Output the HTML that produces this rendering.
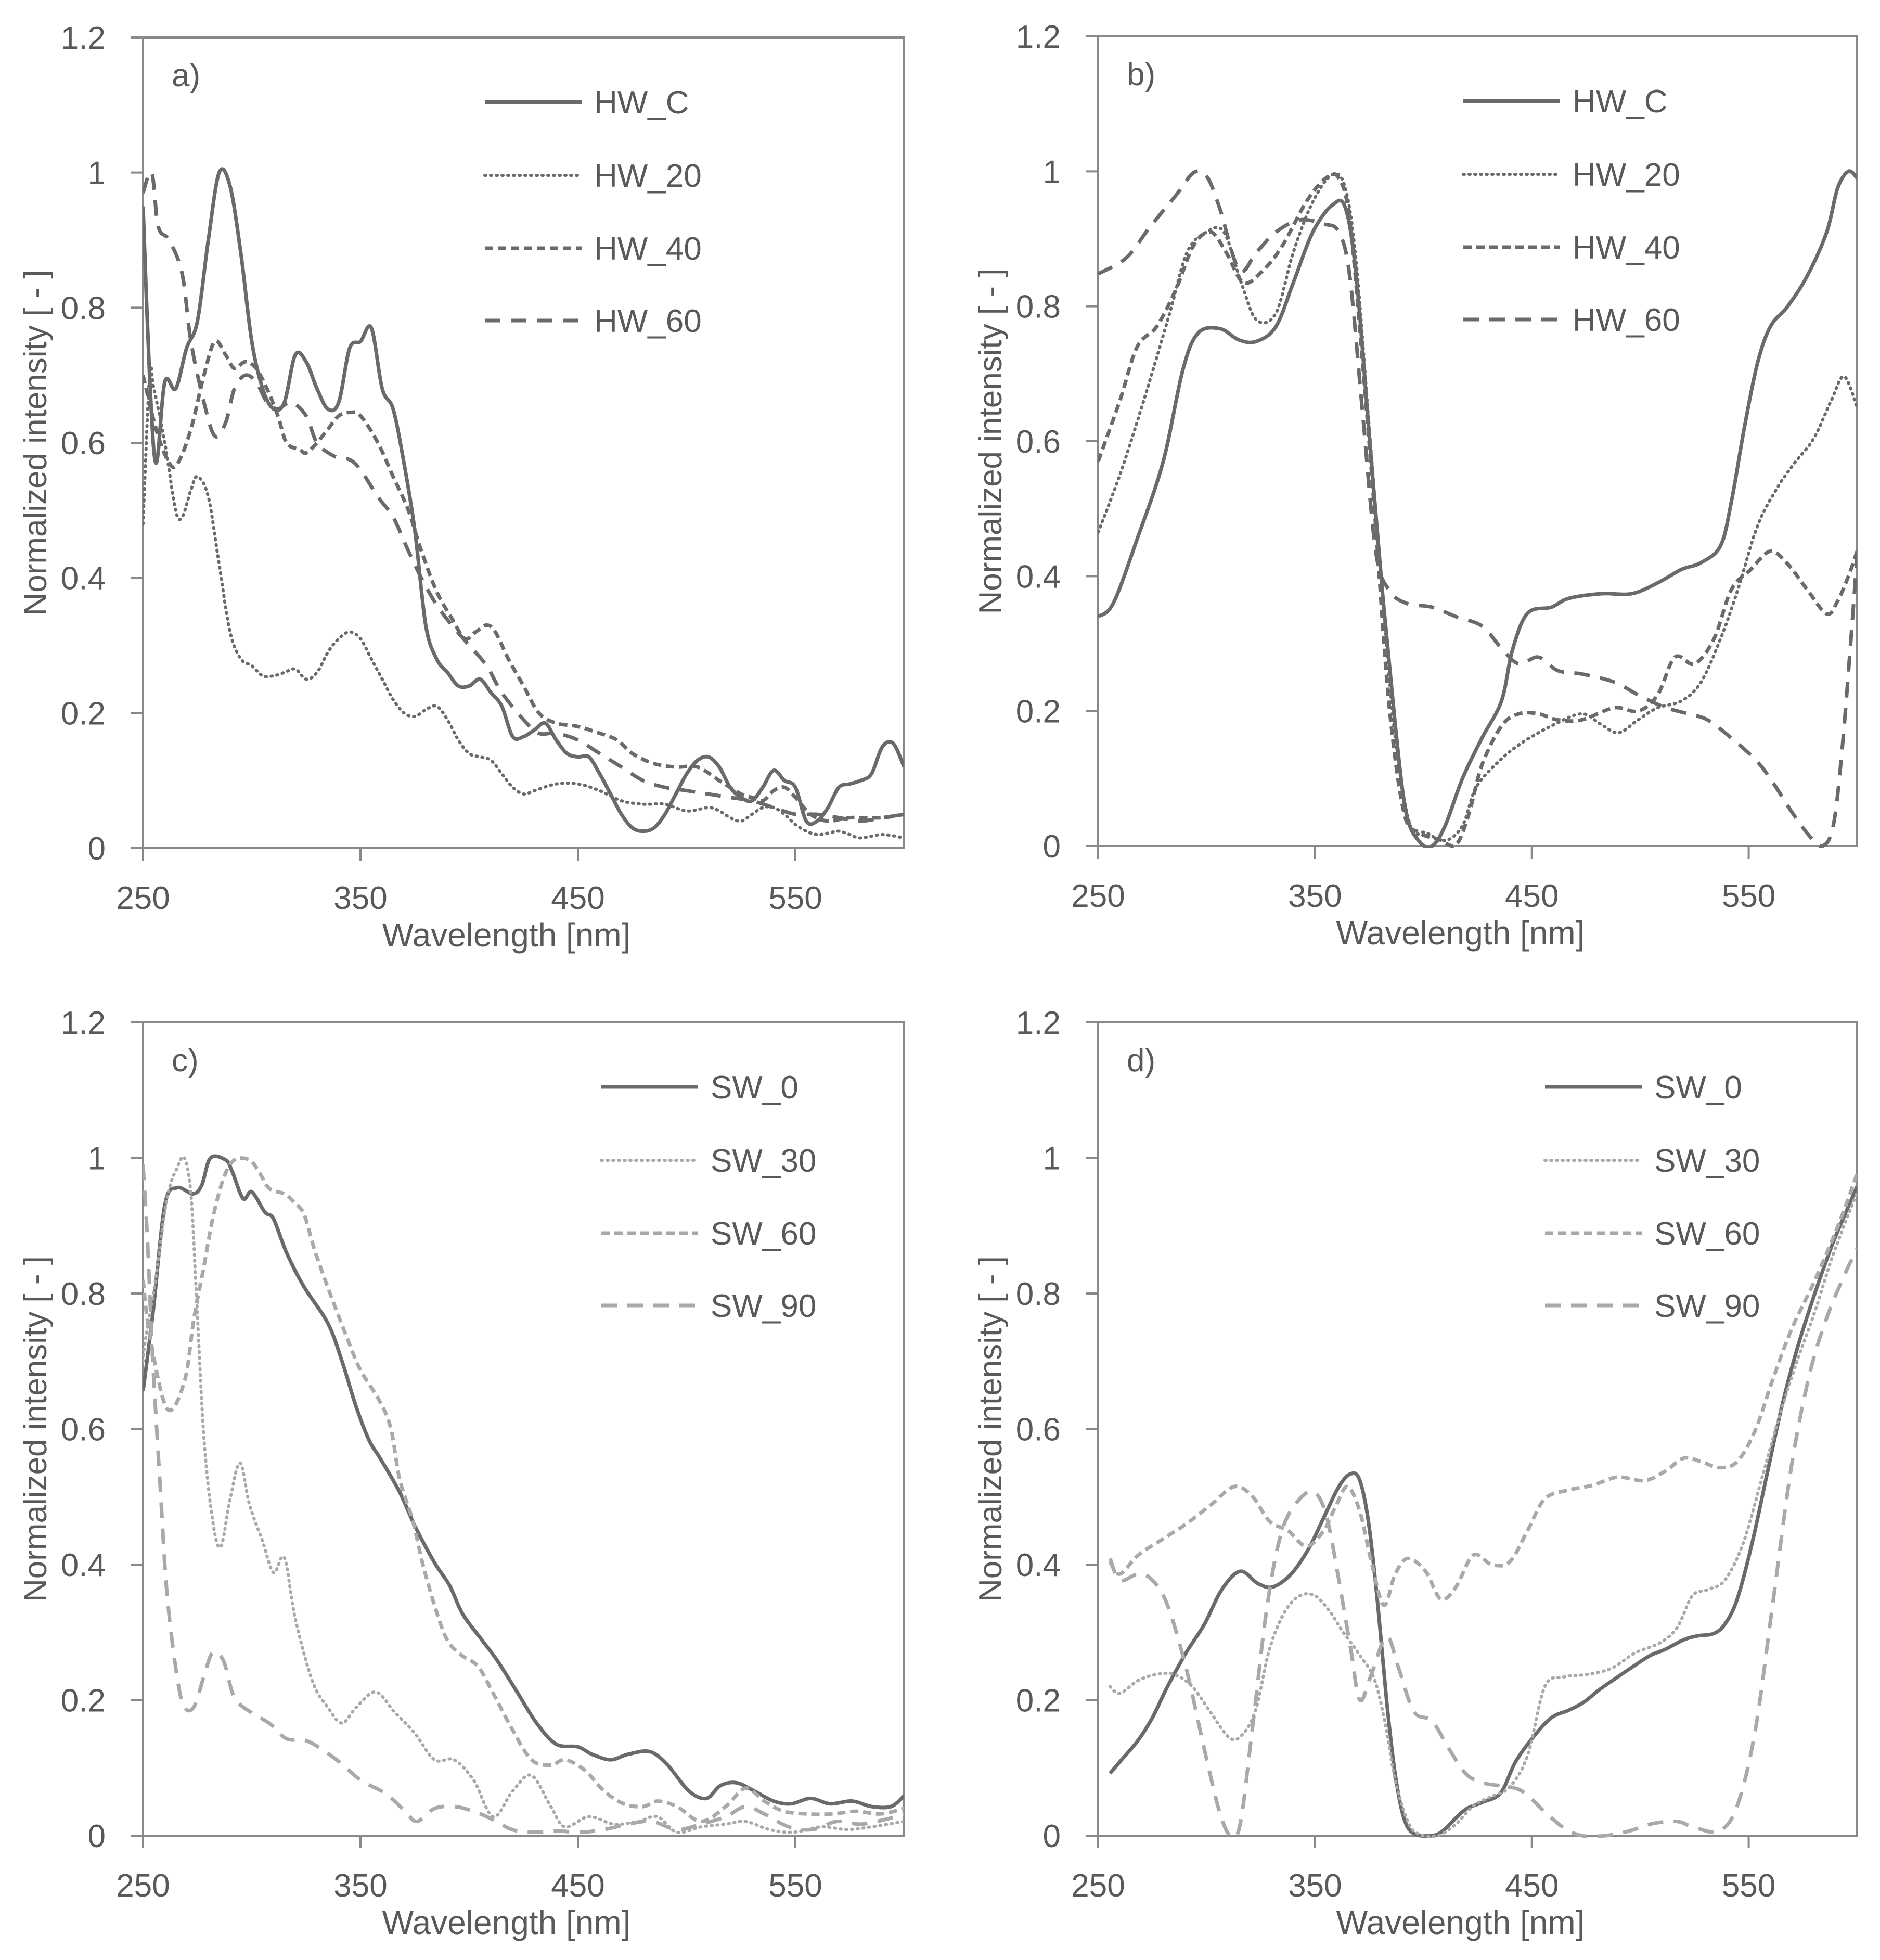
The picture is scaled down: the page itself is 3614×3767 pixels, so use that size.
<!DOCTYPE html>
<html><head><meta charset="utf-8">
<style>
html,body{margin:0;padding:0;background:#fff;}
svg{display:block;}
text{font-family:"Liberation Sans",sans-serif;fill:#595959;}
</style></head>
<body>
<svg id="chart" width="3614" height="3767" viewBox="0 0 3614 3767" xmlns="http://www.w3.org/2000/svg">
<rect width="3614" height="3767" fill="#fff"/>
</svg>
<script>
// ---- shared axis data ----
const xTicks = [250, 350, 450, 550];
const yTicks = [0, 0.2, 0.4, 0.6, 0.8, 1, 1.2];
const yTickLabels = ["0", "0.2", "0.4", "0.6", "0.8", "1", "1.2"];
const xDomain = [250, 600];
const yDomain = [0, 1.2];

// ---- panel a ----
const aNames = ["HW_C", "HW_20", "HW_40", "HW_60"];
const a_HW_C = [[250,0.95],[253,0.7],[256,0.57],[260,0.69],[265,0.68],[270,0.74],[275,0.78],[280,0.9],[285,1.0],[290,0.98],[295,0.88],[300,0.75],[305,0.68],[310,0.65],[315,0.66],[320,0.73],[325,0.72],[330,0.68],[335,0.65],[340,0.66],[345,0.74],[350,0.75],[355,0.77],[360,0.68],[365,0.65],[370,0.57],[375,0.47],[380,0.33],[385,0.28],[390,0.26],[395,0.24],[400,0.24],[405,0.25],[410,0.23],[415,0.21],[420,0.165],[425,0.165],[430,0.175],[435,0.185],[440,0.16],[445,0.14],[450,0.135],[455,0.135],[460,0.11],[465,0.08],[470,0.05],[475,0.03],[480,0.025],[485,0.03],[490,0.05],[495,0.08],[500,0.11],[505,0.13],[510,0.135],[515,0.12],[520,0.09],[525,0.075],[530,0.07],[535,0.09],[540,0.115],[545,0.1],[550,0.09],[555,0.04],[560,0.04],[565,0.06],[570,0.09],[575,0.095],[580,0.1],[585,0.11],[590,0.15],[595,0.155],[600,0.12]];
const a_HW_20 = [[250,0.48],[253,0.7],[255,0.68],[260,0.6],[265,0.5],[268,0.49],[272,0.53],[275,0.55],[280,0.52],[285,0.42],[290,0.32],[295,0.28],[300,0.27],[305,0.255],[310,0.255],[315,0.26],[320,0.265],[325,0.25],[330,0.26],[335,0.29],[340,0.31],[345,0.32],[350,0.31],[355,0.28],[360,0.25],[365,0.22],[370,0.2],[375,0.195],[380,0.205],[385,0.21],[390,0.19],[395,0.16],[400,0.14],[405,0.135],[410,0.13],[415,0.11],[420,0.09],[425,0.08],[430,0.085],[440,0.095],[450,0.095],[460,0.085],[470,0.07],[480,0.065],[490,0.065],[500,0.055],[510,0.06],[515,0.055],[520,0.045],[525,0.04],[530,0.05],[535,0.06],[540,0.06],[545,0.05],[550,0.035],[555,0.025],[560,0.02],[565,0.022],[570,0.025],[575,0.02],[580,0.015],[590,0.02],[600,0.015]];
const a_HW_40 = [[250,0.7],[256,0.62],[262,0.57],[266,0.57],[272,0.62],[278,0.7],[283,0.75],[288,0.73],[292,0.71],[297,0.72],[302,0.71],[307,0.68],[312,0.64],[316,0.6],[322,0.59],[325,0.585],[330,0.6],[335,0.62],[340,0.64],[345,0.645],[350,0.64],[358,0.6],[365,0.55],[372,0.5],[378,0.44],[385,0.38],[392,0.34],[398,0.31],[403,0.32],[408,0.33],[412,0.32],[418,0.28],[425,0.24],[432,0.2],[440,0.185],[450,0.18],[460,0.17],[468,0.16],[475,0.14],[485,0.125],[495,0.12],[505,0.12],[515,0.1],[525,0.08],[530,0.075],[535,0.07],[540,0.085],[545,0.09],[550,0.075],[557,0.05],[565,0.04],[575,0.045],[590,0.045],[600,0.05]];
const a_HW_60 = [[250,0.97],[254,1.0],[257,0.92],[262,0.9],[268,0.85],[272,0.75],[278,0.66],[283,0.61],[288,0.63],[292,0.68],[297,0.7],[302,0.69],[307,0.66],[312,0.65],[318,0.66],[325,0.64],[330,0.6],[338,0.58],[345,0.575],[350,0.56],[358,0.52],[365,0.49],[372,0.44],[378,0.4],[385,0.36],[392,0.33],[400,0.3],[408,0.27],[415,0.23],[425,0.19],[432,0.17],[440,0.17],[450,0.16],[460,0.14],[470,0.12],[480,0.1],[490,0.09],[500,0.085],[510,0.08],[520,0.075],[530,0.07],[540,0.06],[550,0.05],[560,0.05],[570,0.045],[580,0.04],[590,0.045],[600,0.05]];

// ---- panel b ----
const bNames = ["HW_C", "HW_20", "HW_40", "HW_60"];
const b_HW_C = [[250,0.34],[257,0.36],[268,0.455],[280,0.57],[289,0.705],[296,0.76],[306,0.767],[315,0.75],[323,0.748],[332,0.77],[340,0.835],[349,0.91],[358,0.95],[364,0.946],[369,0.845],[375,0.61],[381,0.38],[387,0.18],[392,0.05],[398,0.007],[404,0],[410,0.03],[418,0.1],[427,0.16],[436,0.215],[441,0.29],[448,0.345],[459,0.354],[467,0.367],[482,0.374],[496,0.374],[508,0.39],[519,0.41],[528,0.42],[537,0.445],[542,0.51],[548,0.62],[554,0.715],[560,0.77],[568,0.8],[577,0.845],[586,0.91],[591,0.975],[596,1.0],[600,0.99]];
const b_HW_20 = [[250,0.465],[260,0.55],[271,0.66],[283,0.79],[291,0.88],[300,0.91],[308,0.91],[316,0.835],[323,0.78],[332,0.79],[340,0.88],[349,0.955],[358,0.995],[364,0.975],[369,0.865],[375,0.62],[381,0.38],[387,0.16],[394,0.03],[401,0.02],[410,0.008],[418,0.03],[424,0.085],[433,0.12],[444,0.15],[459,0.178],[473,0.196],[482,0.18],[490,0.168],[499,0.187],[508,0.205],[519,0.215],[528,0.243],[537,0.307],[545,0.38],[554,0.474],[563,0.53],[571,0.567],[580,0.604],[588,0.66],[594,0.696],[600,0.65]];
const b_HW_40 = [[250,0.57],[260,0.66],[268,0.74],[277,0.77],[286,0.826],[294,0.89],[302,0.91],[309,0.88],[317,0.835],[326,0.853],[335,0.89],[346,0.955],[355,0.99],[361,0.99],[366,0.928],[372,0.715],[378,0.474],[384,0.215],[391,0.05],[398,0.02],[407,0.01],[415,0.002],[421,0.048],[427,0.12],[436,0.178],[444,0.196],[453,0.196],[462,0.187],[473,0.187],[488,0.205],[499,0.2],[508,0.224],[516,0.28],[525,0.27],[534,0.307],[542,0.38],[551,0.41],[560,0.437],[568,0.418],[577,0.38],[586,0.344],[591,0.363],[596,0.4],[600,0.437]];
const b_HW_60 = [[250,0.848],[263,0.872],[274,0.918],[286,0.965],[294,0.998],[300,0.993],[306,0.946],[315,0.854],[323,0.88],[332,0.91],[343,0.928],[354,0.922],[361,0.91],[366,0.845],[372,0.64],[378,0.437],[384,0.38],[392,0.36],[404,0.354],[415,0.34],[427,0.326],[436,0.293],[444,0.27],[453,0.28],[462,0.26],[473,0.255],[488,0.243],[499,0.224],[511,0.206],[522,0.196],[531,0.187],[542,0.16],[554,0.125],[562,0.09],[570,0.05],[578,0.015],[584,0],[589,0.03],[593,0.14],[597,0.3],[600,0.43]];

// ---- panel c ----
const cNames = ["SW_0", "SW_30", "SW_60", "SW_90"];
const c_SW_0 = [[250,0.656],[254.5,0.77],[260,0.93],[265.6,0.956],[273,0.947],[277,0.96],[281,1.0],[288,0.997],[291,0.98],[296,0.94],[300,0.95],[306,0.92],[310,0.91],[316,0.86],[324,0.81],[335,0.756],[341.5,0.7],[348,0.633],[354,0.583],[359,0.557],[368,0.507],[375,0.457],[384,0.403],[391,0.369],[397,0.327],[406,0.288],[413,0.258],[422,0.212],[431,0.166],[440,0.135],[450,0.131],[456.5,0.12],[465,0.112],[473,0.12],[483,0.124],[491,0.105],[501,0.066],[509,0.055],[515.6,0.074],[523,0.078],[531,0.066],[540,0.051],[548,0.047],[557,0.055],[566,0.047],[576,0.051],[585,0.043],[594,0.043],[600,0.059]];
const c_SW_30 = [[250,0.7],[251,0.73],[255.6,0.817],[261,0.94],[265.6,0.985],[269,1.0],[272,0.947],[274.5,0.8],[278,0.587],[282,0.465],[285.7,0.426],[290,0.496],[294.6,0.55],[299,0.488],[305,0.434],[310,0.388],[315,0.41],[320,0.32],[328,0.227],[335,0.189],[341.5,0.166],[348,0.189],[357,0.212],[366,0.181],[375,0.151],[384,0.112],[393,0.112],[402,0.082],[411,0.028],[420,0.066],[428.6,0.089],[437.5,0.043],[444,0.013],[455,0.028],[466.5,0.017],[477.6,0.021],[486.6,0.028],[495.5,0.005],[506.7,0.013],[518,0.017],[527,0.021],[538,0.009],[549,0.005],[562,0.013],[573.6,0.009],[585,0.013],[600,0.021]];
const c_SW_60 = [[250,0.82],[253,0.74],[261,0.63],[269,0.67],[273.4,0.763],[278,0.84],[282,0.91],[287,0.97],[292,0.997],[299,0.997],[303.6,0.978],[308,0.955],[315,0.947],[319,0.936],[324,0.917],[329,0.863],[336,0.8],[344,0.733],[350,0.687],[359,0.64],[364,0.6],[368,0.526],[374,0.465],[379,0.396],[386,0.32],[390.6,0.285],[397,0.265],[404,0.25],[410.7,0.212],[419.6,0.158],[428.6,0.112],[437.5,0.104],[444,0.112],[453,0.097],[462,0.066],[471,0.047],[480,0.043],[486.6,0.051],[495.5,0.043],[506.7,0.021],[518,0.043],[527,0.07],[535.7,0.051],[544.6,0.036],[555.8,0.032],[567,0.032],[578,0.036],[589,0.032],[600,0.04]];
const c_SW_90 = [[250,0.99],[252,0.88],[254.5,0.7],[258,0.51],[261,0.357],[265.6,0.235],[269,0.19],[273.4,0.19],[278,0.235],[282,0.27],[287,0.258],[292,0.204],[300,0.181],[308,0.166],[316,0.143],[326,0.139],[339,0.112],[350,0.082],[361.6,0.062],[370.5,0.036],[376,0.021],[384,0.04],[393,0.043],[402,0.036],[410.7,0.024],[419.6,0.009],[428.6,0.005],[440,0.007],[451,0.005],[462,0.009],[473,0.017],[484,0.021],[495.5,0.009],[506.7,0.017],[518,0.028],[527,0.043],[535.7,0.032],[547,0.013],[558,0.009],[569,0.021],[580,0.017],[591.5,0.024],[600,0.032]];

// ---- panel d ----
const dNames = ["SW_0", "SW_30", "SW_60", "SW_90"];
const d_SW_0 = [[255.5,0.092],[260,0.109],[268.5,0.141],[275,0.174],[282,0.22],[290.6,0.27],[299,0.312],[307,0.363],[315.5,0.39],[323.7,0.372],[330.6,0.367],[339,0.386],[347,0.423],[354,0.469],[361,0.515],[366.5,0.534],[370.7,0.524],[374.8,0.46],[379,0.34],[383,0.2],[387,0.09],[391,0.026],[395.6,0.003],[404,0],[409,0.007],[415,0.026],[420,0.04],[427,0.049],[435.6,0.063],[442.5,0.109],[450.8,0.146],[459,0.174],[467,0.185],[474,0.197],[481,0.215],[489.5,0.234],[497.8,0.252],[504.7,0.266],[511.6,0.275],[520,0.289],[526.8,0.295],[533.7,0.298],[539,0.312],[544.7,0.349],[551.6,0.432],[558.5,0.534],[565.4,0.635],[572.3,0.718],[580.6,0.801],[588.9,0.875],[600,0.958]];
const d_SW_30 = [[255.5,0.22],[260,0.21],[268.5,0.229],[277,0.238],[285,0.238],[293.4,0.22],[301.6,0.183],[310,0.146],[315.5,0.146],[322.4,0.183],[329,0.275],[336,0.33],[343,0.354],[350,0.354],[357,0.33],[362.4,0.303],[370.7,0.266],[377.6,0.229],[383,0.155],[387,0.081],[392.8,0.021],[398,0.002],[406.6,0],[415,0.017],[423,0.044],[431.5,0.058],[439.8,0.072],[448,0.118],[456,0.22],[464.6,0.234],[475.6,0.238],[486.7,0.247],[497.8,0.27],[508.8,0.284],[517,0.307],[524,0.354],[531,0.363],[539,0.377],[547.5,0.432],[555.8,0.524],[564,0.617],[572.3,0.7],[580.6,0.774],[588.9,0.857],[600,0.949]];
const d_SW_60 = [[255.5,0.404],[260,0.386],[268.5,0.414],[279.5,0.437],[290.6,0.46],[301.6,0.487],[312.7,0.515],[321,0.501],[329,0.464],[337.6,0.45],[346,0.427],[354,0.45],[359.7,0.487],[365,0.515],[370.7,0.478],[376,0.404],[381.7,0.34],[387,0.386],[392.8,0.409],[401,0.39],[408,0.349],[415,0.367],[423,0.414],[431.5,0.4],[439.8,0.404],[448,0.45],[456,0.497],[467,0.51],[478,0.517],[489.5,0.529],[502,0.524],[511.6,0.538],[520,0.557],[528,0.552],[536.4,0.543],[544.7,0.552],[553,0.598],[561,0.672],[569.6,0.746],[580.6,0.82],[591.6,0.903],[600,0.977]];
const d_SW_90 = [[255.5,0.409],[260,0.377],[268.5,0.386],[275,0.377],[282,0.34],[290.6,0.247],[299,0.127],[306,0.035],[311,0],[315.5,0.017],[321,0.155],[328,0.34],[334.8,0.45],[343,0.497],[350,0.506],[355.5,0.469],[361,0.377],[366.5,0.275],[370.7,0.2],[376,0.238],[383,0.294],[388.6,0.247],[395.6,0.183],[404,0.169],[412,0.127],[420,0.09],[428.7,0.077],[439.8,0.072],[446.7,0.063],[456,0.035],[464.6,0.012],[473,0],[484,0],[495,0.007],[506,0.018],[517,0.021],[525,0.012],[536.4,0.007],[544.7,0.044],[553,0.155],[561,0.34],[569.6,0.543],[578,0.68],[586,0.764],[594.4,0.829],[600,0.866]];

const NS = "http://www.w3.org/2000/svg";
const svg = document.getElementById("chart");
const DARK = "#6c696a", LIGHT = "#aaa8a9", AXIS = "#8c8889";
const styles = [
  {dash: null, w: 7},
  {dash: "2 9", w: 6},
  {dash: "16 9", w: 7},
  {dash: "30 20", w: 7}
];

function mk(tag, attrs, parent) {
  const el = document.createElementNS(NS, tag);
  for (const k in attrs) el.setAttribute(k, attrs[k]);
  (parent || svg).appendChild(el);
  return el;
}

function smoothPath(pts) {
  let d = "M" + pts[0][0].toFixed(1) + "," + pts[0][1].toFixed(1);
  for (let i = 0; i < pts.length - 1; i++) {
    const p0 = pts[Math.max(0, i - 1)], p1 = pts[i], p2 = pts[i + 1], p3 = pts[Math.min(pts.length - 1, i + 2)];
    const c1x = p1[0] + (p2[0] - p0[0]) / 6, c1y = p1[1] + (p2[1] - p0[1]) / 6;
    const c2x = p2[0] - (p3[0] - p1[0]) / 6, c2y = p2[1] - (p3[1] - p1[1]) / 6;
    d += " C" + c1x.toFixed(1) + "," + c1y.toFixed(1) + " " + c2x.toFixed(1) + "," + c2y.toFixed(1) + " " + p2[0].toFixed(1) + "," + p2[1].toFixed(1);
  }
  return d;
}

function panel(id, L, T, R, B, label, names, series, colors, legX) {
  const g = mk("g", {});
  
  
  const xs = v => L + (v - xDomain[0]) / (xDomain[1] - xDomain[0]) * (R - L);
  const ys = v => B - (v - yDomain[0]) / (yDomain[1] - yDomain[0]) * (B - T);
  const clip = mk("clipPath", {id: "clip-" + id}, g);
  mk("rect", {x: L, y: T - 4, width: R - L, height: B - T + 8}, clip);
  const frame = mk("rect", {x: L, y: T, width: R - L, height: B - T, fill: "none", stroke: AXIS, "stroke-width": 4}, g);
  
  
  yTicks.forEach((v, i) => {
    const y = ys(v);
    const t = mk("line", {x1: L - 24, x2: L, y1: y, y2: y, stroke: AXIS, "stroke-width": 4}, g);
    
    
    const tx = mk("text", {x: L - 72, y: y + 22, "text-anchor": "end", "font-size": 62}, g);
    tx.textContent = yTickLabels[i];
    
    
  });
  xTicks.forEach(v => {
    const x = xs(v);
    const t = mk("line", {x1: x, x2: x, y1: B, y2: B + 24, stroke: AXIS, "stroke-width": 4}, g);
    
    
    const tx = mk("text", {x: x, y: B + 117, "text-anchor": "middle", "font-size": 62}, g);
    tx.textContent = String(v);
    
    
  });
  const xt = mk("text", {x: (L + R) / 2 - 33, y: B + 189, "text-anchor": "middle", "font-size": 64}, g);
  xt.textContent = "Wavelength [nm]";
  
  
  const yx = L - 186, yy = (T + B) / 2;
  const yt = mk("text", {x: yx, y: yy, "text-anchor": "middle", "font-size": 62, transform: "rotate(-90 " + yx + " " + yy + ")"}, g);
  yt.textContent = "Normalized intensity [ - ]";
  
  
  const pl = mk("text", {x: L + 55, y: T + 94, "font-size": 62}, g);
  pl.textContent = label;
  
  
  const sg = mk("g", {"clip-path": "url(#clip-" + id + ")"}, g);
  series.forEach((s, i) => {
    const pts = s.map(p => [xs(p[0]), ys(p[1])]);
    const a = {d: smoothPath(pts), fill: "none", stroke: colors[i], "stroke-width": styles[i].w, "stroke-linejoin": "round", "stroke-linecap": i === 1 ? "round" : "butt"};
    if (styles[i].dash) a["stroke-dasharray"] = styles[i].dash;
    const p = mk("path", a, sg);
    
    
  });
  const rows = [124, 265, 405, 544];
  names.forEach((n, i) => {
    const y = T + rows[i];
    const la = {x1: L + legX, x2: L + legX + 186, y1: y, y2: y, stroke: colors[i], "stroke-width": styles[i].w, "stroke-linecap": i === 1 ? "round" : "butt"};
    if (styles[i].dash) la["stroke-dasharray"] = styles[i].dash;
    const ln = mk("line", la, g);
    
    
    const tx = mk("text", {x: L + legX + 210, y: y + 22, "font-size": 62}, g);
    tx.textContent = n;
    
    
  });
}

const hw = [DARK, DARK, DARK, DARK];
const sw = [DARK, LIGHT, LIGHT, LIGHT];
panel("a", 275, 72, 1738, 1630, "a)", aNames, [a_HW_C, a_HW_20, a_HW_40, a_HW_60], hw, 657);
panel("b", 2111, 70, 3570, 1626, "b)", bNames, [b_HW_C, b_HW_20, b_HW_40, b_HW_60], hw, 702);
panel("c", 275, 1965, 1738, 3528, "c)", cNames, [c_SW_0, c_SW_30, c_SW_60, c_SW_90], sw, 881);
panel("d", 2111, 1965, 3570, 3528, "d)", dNames, [d_SW_0, d_SW_30, d_SW_60, d_SW_90], sw, 859);
</script>
</body></html>
